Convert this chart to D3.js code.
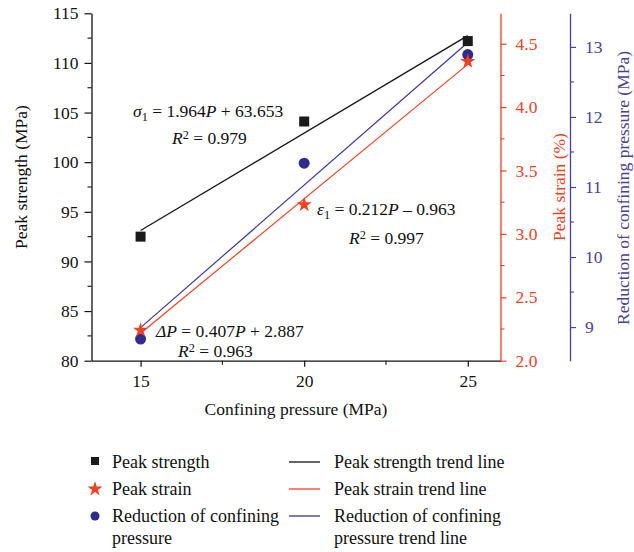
<!DOCTYPE html>
<html><head><meta charset="utf-8">
<script src="https://cdn.jsdelivr.net/npm/d3@7"></script>
<style>body{margin:0;background:#fff}svg{display:block}text{font-family:"Liberation Serif","DejaVu Serif",serif}</style>
</head><body>
<svg id="c" width="634" height="552"></svg>
<script>
const pressures = [15, 20, 25];
const peakStrength = [92.5, 104.1, 112.2];
const peakStrain = [2.24, 3.23, 4.36];
const reduction = [8.83, 11.34, 12.89];
const trendX = [15, 25];
const strengthTrend = [93.11, 112.75];
const strainTrend = [2.217, 4.337];
const reductionTrend = [8.992, 13.062];
const xTicks = [15, 20, 25];
const leftTicks = [80, 85, 90, 95, 100, 105, 110, 115];
const strainTicks = [2.0, 2.5, 3.0, 3.5, 4.0, 4.5];
const reductionTicks = [9, 10, 11, 12, 13];

(function () {
const RED = "#ef4123", BLUE = "#2f2c8e", BLUEAX = "#4b3f97", BLUELINE = "#3a35a3";
const svg = d3.select("#c");
const yTop = 13.3, yBot = 360.7;
const x = d3.scaleLinear().domain([13.5, 26]).range([91.5, 500.5]);
const yL = d3.scaleLinear().domain([80, 115]).range([yBot, yTop]);
const yS = d3.scaleLinear().domain([2.0, 4.74]).range([yBot, yTop]);
const yR = d3.scaleLinear().domain([8.52, 13.48]).range([yBot, yTop]);
const FS = 17.5;

function styleAxis(g, color) {
  g.select(".domain").attr("stroke", color).attr("stroke-width", 1.3);
  g.selectAll(".tick line").attr("stroke", color).attr("stroke-width", 1.2);
  g.selectAll(".tick text").attr("fill", color).attr("font-size", FS).attr("font-family", "Liberation Serif");
}

// left axis
const gL = svg.append("g").attr("transform", `translate(${x.range()[0]},0)`)
  .call(d3.axisLeft(yL).tickValues(leftTicks).tickSize(7).tickPadding(6).tickSizeOuter(0).tickFormat(d3.format("d")));
styleAxis(gL, "#111");
const gLm = svg.append("g").attr("transform", `translate(${x.range()[0]},0)`).attr("stroke", "#111").attr("stroke-width", 1.1);
[82.5, 87.5, 92.5, 97.5, 102.5, 107.5, 112.5].forEach(v => gLm.append("line").attr("x1", 0).attr("x2", -4).attr("y1", yL(v)).attr("y2", yL(v)));

// bottom axis
const gB = svg.append("g").attr("transform", `translate(0,${yBot})`)
  .call(d3.axisBottom(x).tickValues(xTicks).tickSize(6).tickPadding(8).tickSizeOuter(0).tickFormat(d3.format("d")));
styleAxis(gB, "#111");
const gBm = svg.append("g").attr("transform", `translate(0,${yBot})`).attr("stroke", "#111").attr("stroke-width", 1.1);
[17.5, 22.5].forEach(v => gBm.append("line").attr("x1", x(v)).attr("x2", x(v)).attr("y1", 0).attr("y2", 4));

// red axis
const gS = svg.append("g").attr("transform", `translate(${x.range()[1]},0)`)
  .call(d3.axisRight(yS).tickValues(strainTicks).tickSize(6).tickPadding(9).tickSizeOuter(0).tickFormat(d3.format(".1f")));
styleAxis(gS, RED);
const gSm = svg.append("g").attr("transform", `translate(${x.range()[1]},0)`).attr("stroke", RED).attr("stroke-width", 1.1);
[2.25, 2.75, 3.25, 3.75, 4.25].forEach(v => gSm.append("line").attr("x1", 0).attr("x2", 4).attr("y1", yS(v)).attr("y2", yS(v)));

// blue axis
const bx = 570;
const gR = svg.append("g").attr("transform", `translate(${bx},0)`)
  .call(d3.axisRight(yR).tickValues(reductionTicks).tickSize(6).tickPadding(9).tickSizeOuter(0).tickFormat(d3.format("d")));
styleAxis(gR, BLUEAX);
const gRm = svg.append("g").attr("transform", `translate(${bx},0)`).attr("stroke", BLUEAX).attr("stroke-width", 1.1);
[9.5, 10.5, 11.5, 12.5].forEach(v => gRm.append("line").attr("x1", 0).attr("x2", 4).attr("y1", yR(v)).attr("y2", yR(v)));

// axis titles
svg.append("text").attr("x", 296).attr("y", 415).attr("text-anchor", "middle").attr("font-size", FS).attr("fill", "#111").text("Confining pressure (MPa)");
svg.append("text").attr("transform", "translate(27,177) rotate(-90)").attr("text-anchor", "middle").attr("font-size", FS).attr("fill", "#111").text("Peak strength (MPa)");
svg.append("text").attr("transform", "translate(565,187) rotate(-90)").attr("text-anchor", "middle").attr("font-size", FS).attr("fill", RED).text("Peak strain (%)");
svg.append("text").attr("transform", "translate(629,188) rotate(-90)").attr("text-anchor", "middle").attr("font-size", FS).attr("fill", BLUEAX).text("Reduction of confining pressure (MPa)");

// trend lines
const line = (ys) => d3.line().x((d, i) => x(trendX[i])).y(d => ys(d));
svg.append("path").attr("d", line(yL)(strengthTrend)).attr("stroke", "#111").attr("stroke-width", 1.2).attr("fill", "none");
svg.append("path").attr("d", line(yR)(reductionTrend)).attr("stroke", BLUELINE).attr("stroke-width", 1.2).attr("fill", "none");
svg.append("path").attr("d", line(yS)(strainTrend)).attr("stroke", RED).attr("stroke-width", 1.2).attr("fill", "none");

// markers
const sq = d3.symbol().type(d3.symbolSquare).size(100);
const st = d3.symbol().type(d3.symbolStar).size(70);
const ci = d3.symbol().type(d3.symbolCircle).size(95);
svg.append("g").selectAll("path").data(peakStrength).join("path")
  .attr("d", sq).attr("fill", "#1a1a1a").attr("transform", (d, i) => `translate(${x(pressures[i])},${yL(d)})`);
svg.append("g").selectAll("path").data(reduction).join("path")
  .attr("d", ci).attr("fill", BLUE).attr("transform", (d, i) => `translate(${x(pressures[i])},${yR(d)})`);
svg.append("g").selectAll("path").data(peakStrain).join("path")
  .attr("d", st).attr("fill", RED).attr("transform", (d, i) => `translate(${x(pressures[i])},${yS(d)})`);

// equations
function eq(xp, yp, parts) {
  const t = svg.append("text").attr("x", xp).attr("y", yp).attr("font-size", FS).attr("fill", "#111");
  parts.forEach(p => {
    const s = t.append("tspan").text(p.t);
    if (p.i) s.attr("font-style", "italic");
    if (p.sub) s.attr("baseline-shift", "-30%").attr("font-size", FS * 0.7);
    if (p.sup) s.attr("baseline-shift", "40%").attr("font-size", FS * 0.7);
  });
}
eq(133, 117, [{t: "σ", i: 1}, {t: "1", sub: 1}, {t: " = 1.964"}, {t: "P", i: 1}, {t: " + 63.653"}]);
eq(172, 144, [{t: "R", i: 1}, {t: "2", sup: 1}, {t: " = 0.979"}]);
eq(317, 215, [{t: "ε", i: 1}, {t: "1", sub: 1}, {t: " = 0.212"}, {t: "P", i: 1}, {t: " – 0.963"}]);
eq(349, 244, [{t: "R", i: 1}, {t: "2", sup: 1}, {t: " = 0.997"}]);
eq(156, 337, [{t: "ΔP", i: 1}, {t: " = 0.407"}, {t: "P", i: 1}, {t: " + 2.887"}]);
eq(178, 357, [{t: "R", i: 1}, {t: "2", sup: 1}, {t: " = 0.963"}]);

// legend
const leg = svg.append("g").attr("font-size", 18).attr("fill", "#111");
const ly = [462, 489, 516, 538];
leg.append("path").attr("d", d3.symbol().type(d3.symbolSquare).size(64)()).attr("fill", "#1a1a1a").attr("transform", `translate(95,${ly[0] - 1})`);
leg.append("path").attr("d", d3.symbol().type(d3.symbolStar).size(70)()).attr("fill", RED).attr("transform", `translate(95,${ly[1]})`);
leg.append("path").attr("d", d3.symbol().type(d3.symbolCircle).size(64)()).attr("fill", BLUE).attr("transform", `translate(95,${ly[2]})`);
const lt = (xx, yy, s, c) => leg.append("text").attr("x", xx).attr("y", yy + 6).attr("fill", c || "#111").text(s);
lt(112, ly[0], "Peak strength");
lt(112, ly[1], "Peak strain");
lt(112, ly[2], "Reduction of confining");
lt(112, ly[3], "pressure");
[["#111", 0], [RED, 1], [BLUELINE, 2]].forEach(([c, i]) => leg.append("line").attr("x1", 289).attr("x2", 320).attr("y1", ly[i]).attr("y2", ly[i]).attr("stroke", c).attr("stroke-width", 1.3));
lt(334, ly[0], "Peak strength trend line");
lt(334, ly[1], "Peak strain trend line");
lt(334, ly[2], "Reduction of confining");
lt(334, ly[3], "pressure trend line");
})();
</script>
</body></html>
